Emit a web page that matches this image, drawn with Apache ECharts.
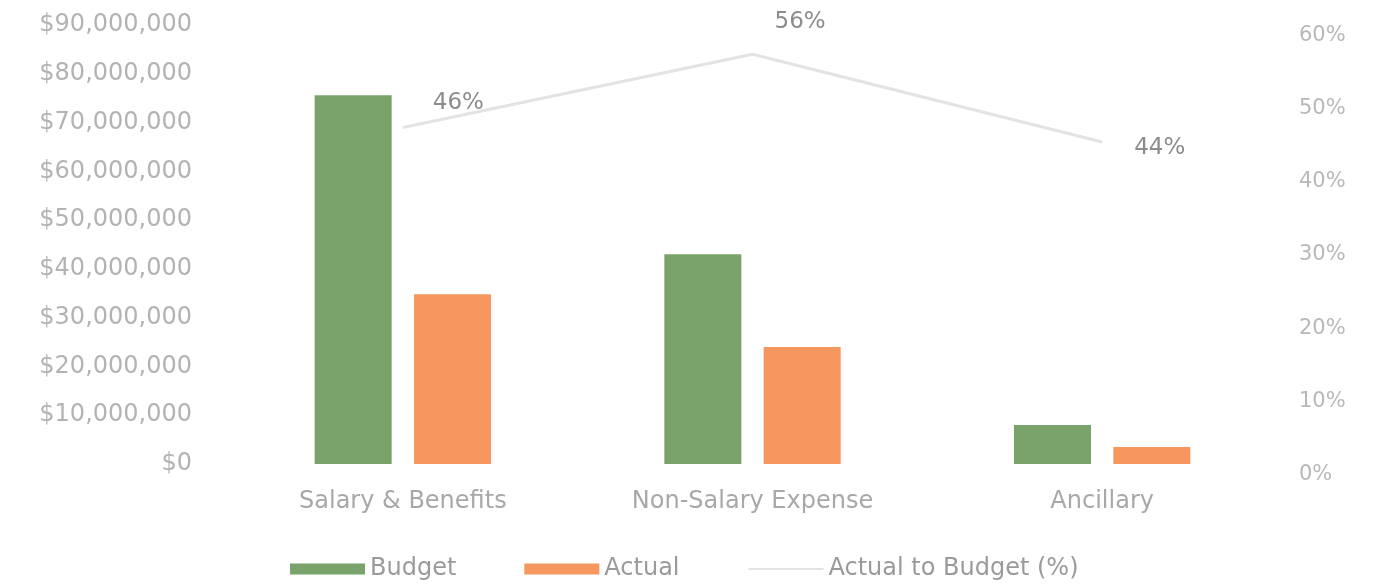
<!DOCTYPE html>
<html>
<head>
<meta charset="utf-8">
<style>
    html, body { margin: 0; padding: 0; background: #fff; }
    #chart { width: 1374px; height: 588px; }
</style>
<script src="https://cdn.jsdelivr.net/npm/echarts@6/dist/echarts.min.js"></script>
</head>
<body>
<div id="chart"></div>
<script>
// 数据
const categories = ['Salary & Benefits', 'Non-Salary Expense', 'Ancillary'];
const budget = [75600000, 43000000, 8000000];
const actual = [34800000, 24000000, 3500000];
const ratioPct = [46, 56, 44];

// 标签偏移 (样式)
const labelOffsets = [[30, -24], [22, -32], [32, 6]];

const FONT = 'DejaVu Sans';

document.addEventListener('DOMContentLoaded', () => {
    initChart();
});

function initChart() {
    const myChart = echarts.init(document.getElementById('chart'));
    const option = {
        animation: false,
        grid: {
            left: 228,
            right: 97,
            top: 25,
            bottom: 124
        },
        legend: {
            bottom: 2,
            left: 285,
            itemWidth: 75,
            itemHeight: 11,
            itemGap: 68,
            textStyle: { color: '#9a9a9a', fontSize: 24, fontFamily: FONT },
            data: [
                { name: 'Budget', icon: 'rect' },
                { name: 'Actual', icon: 'rect' },
                { name: 'Actual to Budget (%)', itemStyle: { opacity: 0 } }
            ]
        },
        xAxis: {
            type: 'category',
            data: categories,
            axisLine: { show: false },
            axisTick: { show: false },
            axisLabel: { color: '#a8a8a8', fontSize: 24, fontFamily: FONT, margin: 26 }
        },
        yAxis: [
            {
                type: 'value',
                min: 0,
                max: 90000000,
                interval: 10000000,
                splitLine: { show: false },
                axisLine: { show: false },
                axisTick: { show: false },
                axisLabel: {
                    color: '#b3b3b3',
                    fontSize: 24,
                    fontFamily: FONT,
                    margin: 36,
                    formatter: v => '$' + v.toLocaleString('en-US')
                }
            },
            {
                type: 'value',
                min: 0,
                max: 60,
                interval: 10,
                splitLine: { show: false },
                axisLine: { show: false },
                axisTick: { show: false },
                axisLabel: {
                    color: '#b8b8b8',
                    fontSize: 21,
                    fontFamily: FONT,
                    margin: 22,
                    verticalAlign: 'top',
                    formatter: '{value}%'
                }
            }
        ],
        series: [
            {
                name: 'Budget',
                type: 'bar',
                data: budget,
                barWidth: 77,
                barGap: '29%',
                itemStyle: { color: '#79a36b' }
            },
            {
                name: 'Actual',
                type: 'bar',
                data: actual,
                barWidth: 77,
                itemStyle: { color: '#f5975f' }
            },
            {
                name: 'Actual to Budget (%)',
                type: 'line',
                yAxisIndex: 1,
                data: ratioPct.map((v, i) => ({
                    value: v,
                    label: { offset: labelOffsets[i] }
                })),
                symbol: 'circle',
                symbolSize: 0,
                lineStyle: { color: '#e3e3e3', width: 3 },
                itemStyle: { color: '#e3e3e3' },
                label: {
                    show: true,
                    position: 'right',
                    distance: 0,
                    color: '#8c8c8c',
                    fontSize: 23,
                    fontFamily: FONT,
                    formatter: p => p.value + '%'
                }
            }
        ]
    };
    myChart.setOption(option);
}
</script>
</body>
</html>
